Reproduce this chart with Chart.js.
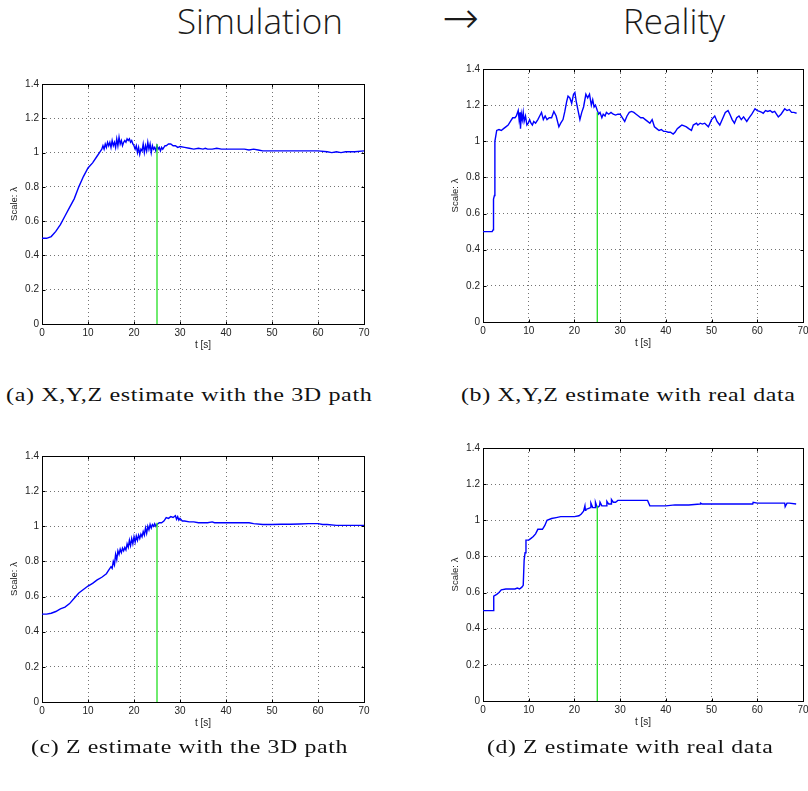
<!DOCTYPE html>
<html>
<head>
<meta charset="utf-8">
<script src="https://cdn.jsdelivr.net/npm/chart.js@4"></script>
<style>
html,body{margin:0;padding:0;background:#fff;width:808px;height:791px;overflow:hidden;position:relative}
.ttl{position:absolute;top:3px;font-family:'Open Sans',sans-serif;font-weight:300;font-size:35px;line-height:1;color:#1a1a1a;white-space:nowrap}
.arrow{position:absolute;top:-4px;left:442px;font-family:'DejaVu Sans',sans-serif;font-weight:200;font-size:44px;line-height:1;color:#1a1a1a}
.cap{position:absolute;font-family:'Liberation Serif',serif;font-size:19px;line-height:1;letter-spacing:0.5px;color:#111;white-space:nowrap;transform-origin:0 0}
.box{position:absolute}
</style>
</head>
<body>
<div class="ttl" style="left:177px">Simulation</div>
<div class="arrow">→</div>
<div class="ttl" style="left:623px">Reality</div>

<div class="box" style="left:0;top:70px"><canvas id="cA" width="380" height="290"></canvas></div>
<div class="box" style="left:441px;top:55px"><canvas id="cB" width="380" height="300"></canvas></div>
<div class="box" style="left:0;top:442px"><canvas id="cC" width="380" height="296"></canvas></div>
<div class="box" style="left:441px;top:434px"><canvas id="cD" width="380" height="300"></canvas></div>

<div class="cap" style="left:6px;top:385px" data-w="366">(a) X,Y,Z estimate with the 3D path</div>
<div class="cap" style="left:461px;top:385px" data-w="335">(b) X,Y,Z estimate with real data</div>
<div class="cap" style="left:31px;top:737px" data-w="317">(c) Z estimate with the 3D path</div>
<div class="cap" style="left:487px;top:737px" data-w="286">(d) Z estimate with real data</div>

<script>
/* ===== datos ===== */
// (a) X,Y,Z con trayectoria 3D (simulación)
const tA=[0,1,2,3,4,5,6,7,8,9,10,11,12,12.5,13,
  13.25,13.5,13.75,14,14.25,14.5,14.75,15,15.25,15.5,15.75,16,16.25,16.5,16.75,17,
  17.25,17.5,17.75,18,18.25,18.5,18.75,19,19.25,19.5,19.75,20,20.25,20.5,20.75,21,
  21.25,21.5,21.75,22,22.25,22.5,22.75,23,23.25,23.5,23.75,24,24.25,24.5,24.75,25,
  25.25,25.5,25.75,26,26.25,26.5,26.75,27,27.5,28,28.5,29,29.5,30,
  31,32,33,34,35,35.5,36,37,38,39,40,41,42,43,44,45,46,47,48,49,50,
  52,54,56,58,60,62,63,64,65,66,68,70];
const lamA=[0.50,0.50,0.51,0.54,0.58,0.63,0.68,0.73,0.80,0.86,0.91,0.94,0.98,1.00,1.02,
  1.04,1.02,1.05,1.03,1.06,1.04,1.06,1.03,1.07,1.04,1.06,1.03,1.08,1.04,1.09,1.05,
  1.07,1.04,1.06,1.07,1.06,1.08,1.07,1.08,1.06,1.07,1.05,1.04,1.02,1.04,1.00,1.03,
  0.99,1.02,1.01,1.05,1.00,1.04,1.01,1.06,1.02,1.05,1.00,1.04,1.02,1.03,1.01,1.04,
  1.02,1.03,1.01,1.03,1.02,1.03,1.04,1.04,1.05,1.05,1.04,1.04,1.03,1.035,
  1.03,1.025,1.02,1.025,1.02,1.025,1.02,1.02,1.025,1.02,1.02,1.02,1.02,1.02,1.02,1.015,1.02,1.015,1.01,1.01,1.01,
  1.01,1.01,1.01,1.01,1.01,1.005,1.00,1.005,1.00,1.005,1.005,1.01];
const greenA=1.05;

// (b) X,Y,Z con datos reales
const tB=[0,1,2,2.2,2.3,2.5,2.6,3,3.5,4,4.5,5,5.5,6,6.5,7,7.3,7.7,7.9,8.1,
  8.2,8.4,8.6,8.8,9,9.3,9.6,9.9,10.2,10.5,10.8,11.1,11.5,12,12.4,12.8,13.2,13.6,14,14.5,
  15,15.5,16,16.6,17,17.5,17.9,18.3,18.6,19,19.4,19.8,20.1,20.4,20.8,21.2,21.6,22,22.5,22.9,
  23.3,23.7,24,24.3,24.6,25,25.3,25.6,26,26.3,26.7,27,27.5,28,28.5,29,29.5,30,30.5,31,
  31.5,32,32.5,33,33.5,34,34.5,35,35.5,36,36.5,37,37.5,38,38.5,39,39.5,40,40.5,41,
  41.6,42,42.5,43,43.5,44,44.5,45,45.6,46,46.7,47,47.5,48,48.5,49.3,50,50.7,51.2,51.8,
  52.5,53,53.6,54,54.5,55,55.5,56,56.5,57,57.7,58.2,58.8,59.5,60,60.5,61,61.3,61.8,62.3,
  62.8,63.3,63.8,64.6,65.2,66,66.5,67,67.5,68,68.6];
const lamB=[0.50,0.50,0.50,0.51,0.68,0.70,1.00,1.06,1.065,1.06,1.07,1.08,1.09,1.11,1.13,1.13,1.14,1.17,1.12,1.16,
  1.07,1.15,1.12,1.16,1.11,1.14,1.09,1.10,1.12,1.10,1.09,1.11,1.10,1.12,1.14,1.16,1.12,1.14,1.12,1.13,
  1.13,1.165,1.14,1.08,1.10,1.12,1.165,1.22,1.25,1.24,1.21,1.26,1.27,1.22,1.17,1.12,1.16,1.19,1.26,1.24,
  1.26,1.20,1.23,1.19,1.20,1.17,1.15,1.16,1.13,1.15,1.14,1.16,1.15,1.16,1.15,1.145,1.15,1.15,1.13,1.11,
  1.14,1.16,1.165,1.16,1.15,1.14,1.13,1.13,1.12,1.11,1.10,1.12,1.08,1.07,1.06,1.065,1.055,1.055,1.05,1.05,
  1.04,1.05,1.07,1.08,1.09,1.085,1.08,1.07,1.06,1.09,1.10,1.09,1.10,1.095,1.10,1.08,1.12,1.14,1.11,1.09,
  1.13,1.16,1.17,1.15,1.12,1.10,1.13,1.14,1.12,1.135,1.11,1.13,1.15,1.18,1.17,1.165,1.16,1.155,1.17,1.165,
  1.17,1.16,1.165,1.135,1.15,1.18,1.17,1.175,1.16,1.16,1.155];
const greenB=1.16;

// (c) Z con trayectoria 3D (simulación)
const tC=[0,1,2,3,4,5,6,7,8,9,10,11,12,13,14,14.5,
  15,15.25,15.5,15.75,16,16.25,16.5,16.75,17,17.25,17.5,17.75,18,18.25,18.5,18.75,
  19,19.25,19.5,19.75,20,20.25,20.5,20.75,21,21.25,21.5,21.75,22,22.25,22.5,22.75,
  23,23.25,23.5,23.75,24,24.25,24.5,24.75,25,25.5,26,26.5,27,27.5,28,28.5,
  29,29.25,29.5,29.75,30,30.5,31,32,33,34,35,36,37,37.5,38,39,40,
  42,44,45,46,48,50,52,54,56,58,60,61,62,64,66,68,70];
const lamC=[0.50,0.50,0.505,0.515,0.53,0.54,0.56,0.59,0.62,0.64,0.66,0.675,0.695,0.71,0.73,0.75,
  0.77,0.76,0.80,0.78,0.84,0.81,0.86,0.84,0.87,0.85,0.875,0.86,0.88,0.865,0.90,0.88,
  0.92,0.89,0.93,0.90,0.94,0.91,0.945,0.92,0.95,0.93,0.955,0.94,0.97,0.95,0.99,0.96,
  1.00,0.98,1.01,0.99,1.01,1.00,1.015,1.00,1.01,1.02,1.02,1.03,1.05,1.045,1.055,1.05,
  1.06,1.04,1.055,1.035,1.045,1.03,1.03,1.025,1.025,1.02,1.02,1.02,1.025,1.02,1.02,1.02,1.02,
  1.02,1.02,1.02,1.015,1.01,1.01,1.012,1.012,1.013,1.015,1.015,1.01,1.01,1.005,1.005,1.005,1.005];
const greenC=1.02;

// (d) Z con datos reales
const tD=[0,2.3,2.35,3,3.5,4,5,6,7,7.5,8,8.5,8.8,9,9.2,9.4,10,10.5,11,11.5,
  12,13,13.5,14,15,16,17,18,19,20,21,21.5,22,22.3,22.4,22.5,23,23.5,23.6,24,
  24.5,24.6,25,25.5,25.6,26,26.5,27,27.1,27.5,28,28.1,28.5,29,29.5,30,33,36,36.5,40,
  42,45,47.5,47.6,48,50,55,58,59,59.1,60,63,65,66,66.1,66.5,67,68.5];
const lamD=[0.50,0.50,0.58,0.59,0.60,0.615,0.62,0.62,0.62,0.625,0.62,0.63,0.64,0.78,0.82,0.89,0.89,0.90,0.91,0.925,
  0.95,0.95,0.97,1.00,1.01,1.015,1.02,1.02,1.02,1.02,1.025,1.035,1.05,1.08,1.055,1.06,1.065,1.07,1.095,1.07,
  1.07,1.10,1.07,1.08,1.10,1.08,1.08,1.08,1.105,1.09,1.09,1.115,1.10,1.10,1.11,1.11,1.11,1.11,1.08,1.08,
  1.085,1.085,1.09,1.095,1.09,1.09,1.09,1.09,1.09,1.10,1.095,1.095,1.095,1.095,1.075,1.095,1.095,1.09];
const greenD=1.08;

const xTicksMax=70, yTicksMax=1.4;
const GREEN_T=25;

/* ===== marco estilo Matlab: caja + ticks hacia adentro ===== */
const frame={id:'frame',beforeDatasetsDraw(c){
  const {ctx,chartArea:a,scales:{x,y}}=c;
  const L=Math.round(a.left)+0.5,R=Math.round(a.right)+0.5,T=Math.round(a.top)+0.5,B=Math.round(a.bottom)+0.5;
  ctx.save();
  ctx.strokeStyle='#000';ctx.lineWidth=1;
  ctx.strokeRect(L,T,R-L,B-T);
  ctx.beginPath();
  x.ticks.forEach(t=>{
    const px=Math.round(x.getPixelForValue(t.value))+0.5;
    ctx.moveTo(px,B);ctx.lineTo(px,B-3);
    ctx.moveTo(px,T);ctx.lineTo(px,T+3);
  });
  y.ticks.forEach(t=>{
    const py=Math.round(y.getPixelForValue(t.value))+0.5;
    ctx.moveTo(L,py);ctx.lineTo(L+3,py);
    ctx.moveTo(R,py);ctx.lineTo(R-3,py);
  });
  ctx.stroke();
  ctx.restore();
}};

const tickFont={family:"'Liberation Sans', Arial, sans-serif",size:10};

function makePanel(id,t,lam,greenTop,pad){
  const pts=t.map((v,i)=>({x:v,y:lam[i]}));
  return new Chart(document.getElementById(id),{
    type:'line',
    data:{datasets:[
      {data:[{x:GREEN_T,y:0},{x:GREEN_T,y:greenTop}],borderColor:'#22e022',borderWidth:1.3,pointRadius:0,order:0},
      {data:pts,borderColor:'#0000ff',borderWidth:1.4,pointRadius:0,tension:0,order:1}
    ]},
    options:{
      responsive:false,animation:false,
      layout:{padding:pad},
      plugins:{legend:{display:false},tooltip:{enabled:false}},
      scales:{
        x:{type:'linear',min:0,max:xTicksMax,
          ticks:{stepSize:10,padding:3,color:'#222',font:tickFont,maxRotation:0},
          grid:{color:'rgba(0,0,0,0.55)',lineWidth:1,drawTicks:false},
          border:{display:false,dash:[1,3]},
          title:{display:true,text:'t [s]',color:'#222',font:tickFont,padding:{top:0,bottom:3}},
          afterFit:s=>{s.height=30;}},
        y:{min:0,max:yTicksMax,
          ticks:{stepSize:0.2,padding:3,color:'#222',font:tickFont,
            callback:v=>+v.toFixed(1)+''},
          grid:{color:'rgba(0,0,0,0.55)',lineWidth:1,drawTicks:false},
          border:{display:false,dash:[1,3]},
          title:{display:true,text:'Scale: λ',color:'#222',font:{family:tickFont.family,size:9.5},padding:{top:9,bottom:0}},
          afterFit:s=>{s.width=42;}}
      }
    },
    plugins:[frame]
  });
}

makePanel('cA',tA,lamA,greenA,{top:14,right:16,bottom:6,left:0});
makePanel('cB',tB,lamB,greenB,{top:14,right:18,bottom:3,left:0});
makePanel('cC',tC,lamC,greenC,{top:14,right:16,bottom:6,left:0});
makePanel('cD',tD,lamD,greenD,{top:14,right:18,bottom:3,left:0});

// ajustar ancho de los pies de figura
document.querySelectorAll('.cap').forEach(el=>{
  const w=+el.dataset.w;
  el.style.transform='scaleX('+(w/el.offsetWidth).toFixed(3)+')';
});
</script>
</body>
</html>
